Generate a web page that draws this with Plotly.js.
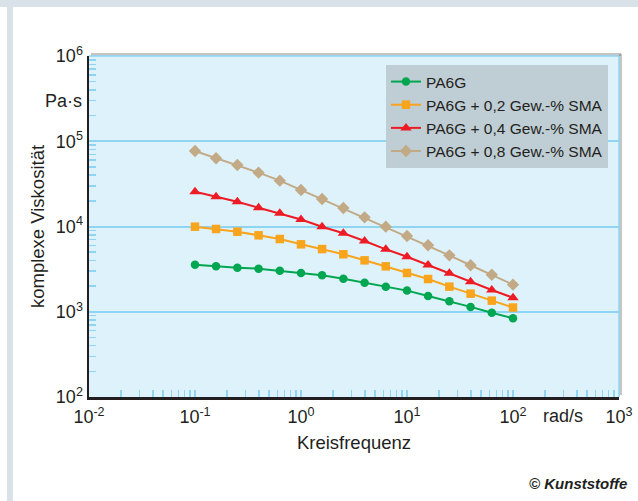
<!DOCTYPE html>
<html>
<head>
<meta charset="utf-8">
<script src="https://cdn.plot.ly/plotly-3.0.1.min.js"></script>
<style>
html,body{margin:0;padding:0;background:#fff;}
#chart{width:638px;height:501px;}
</style>
</head>
<body>
<div id="chart"></div>
<script>
// angular frequency (rad/s)
const frequency = [0.1, 0.158, 0.251, 0.398, 0.631, 1, 1.58, 2.51, 3.98, 6.31, 10, 15.8, 25.1, 39.8, 63.1, 100];

// complex viscosity (Pa·s)
const pa6g      = [3560, 3410, 3290, 3200, 3030, 2850, 2680, 2440, 2190, 1970, 1770, 1530, 1330, 1140, 975, 838];
const sma02     = [9950, 9350, 8690, 7880, 7130, 6180, 5440, 4720, 4010, 3410, 2850, 2420, 1970, 1630, 1350, 1120];
const sma04     = [25600, 22400, 19500, 16600, 14300, 12100, 9950, 8320, 6760, 5400, 4420, 3530, 2830, 2250, 1800, 1460];
const sma08     = [76900, 63100, 52600, 42800, 34500, 26800, 21000, 16500, 12800, 9950, 7740, 6020, 4590, 3510, 2720, 2080];

const seriesNames = ["PA6G", "PA6G + 0,2 Gew.-% SMA", "PA6G + 0,4 Gew.-% SMA", "PA6G + 0,8 Gew.-% SMA"];

const xTickVals = [0.01, 0.1, 1, 10, 100, 1000];
const xTickText = ["10<sup>-2</sup>", "10<sup>-1</sup>", "10<sup>0</sup>", "10<sup>1</sup>", "10<sup>2</sup>", "10<sup>3</sup>"];
const yTickVals = [1e2, 1e3, 1e4, 1e5, 1e6];
const yTickText = ["10<sup>2</sup>", "10<sup>3</sup>", "10<sup>4</sup>", "10<sup>5</sup>", "10<sup>6</sup>"];

function minorVals(expFrom, expTo) {
  const out = [];
  for (let e = expFrom; e < expTo; e++) {
    for (let m = 2; m <= 9; m++) out.push(m * Math.pow(10, e));
  }
  return out;
}

const colors = ["#00a650", "#f8a41c", "#ed1c24", "#c3aa86"];
const symbols = ["circle", "square", "triangle-up", "diamond"];
const sizes = [8.5, 8.5, 10, 9.5];
const ys = [pa6g, sma02, sma04, sma08];

const traces = ys.map((y, i) => ({
  type: "scatter",
  mode: "lines+markers",
  x: frequency,
  y: y,
  name: seriesNames[i],
  line: {color: colors[i], width: 2},
  marker: {color: colors[i], symbol: symbols[i], size: sizes[i]}
}));

// plot area pixel geometry helpers for decorations
const L = 89, R = 619, T = 56, B = 397;
const px = v => (v - L) / (R - L);
const py = v => (B - v) / (B - T);

const font = "Liberation Sans, Arial, sans-serif";
const txt = "#231f20";
const grid = "#8ed5f3";

const layout = {
  width: 638,
  height: 501,
  margin: {l: L, r: 638 - R, t: T, b: 501 - B},
  paper_bgcolor: "#ffffff",
  plot_bgcolor: "#def2fb",
  font: {family: font, size: 15, color: txt},
  showlegend: true,
  legend: {
    x: px(386), y: py(65), xanchor: "left", yanchor: "top",
    bgcolor: "#bfcdd4", borderwidth: 0,
    font: {family: font, size: 15.5, color: txt},
    itemwidth: 30
  },
  xaxis: {
    type: "log",
    range: [-2, 3],
    tickmode: "array",
    tickvals: xTickVals,
    ticktext: xTickText,
    ticks: "inside",
    ticklen: 7,
    tickwidth: 1.5,
    tickcolor: grid,
    ticklabelstandoff: 2,
    showgrid: false,
    zeroline: false,
    showline: true,
    linecolor: "#231f20",
    linewidth: 2.5,
    tickfont: {family: font, size: 18, color: txt},
    minor: {tickmode: "array", tickvals: minorVals(-2, 3), ticks: "inside", ticklen: 7, tickwidth: 1.5, tickcolor: grid, showgrid: false},
    title: {text: "Kreisfrequenz", font: {family: font, size: 18.5, color: txt}, standoff: 10},
    automargin: false
  },
  yaxis: {
    type: "log",
    range: [2, 6],
    tickmode: "array",
    tickvals: yTickVals,
    ticktext: yTickText,
    ticks: "inside",
    ticklen: 7,
    tickwidth: 1.5,
    tickcolor: grid,
    showgrid: true,
    gridcolor: grid,
    gridwidth: 2,
    zeroline: false,
    showline: true,
    linecolor: "#231f20",
    linewidth: 2.5,
    tickfont: {family: font, size: 18, color: txt},
    minor: {tickmode: "array", tickvals: minorVals(2, 6), ticks: "inside", ticklen: 7, tickwidth: 1.5, tickcolor: grid, showgrid: false},
    title: {text: "komplexe Viskosität", font: {family: font, size: 18.5, color: txt}, standoff: 7},
    automargin: false
  },
  shapes: [
    // outer frame bands
    {type: "rect", xref: "paper", yref: "paper", x0: px(0), x1: px(638), y0: py(0), y1: py(7), fillcolor: "#dae2e9", line: {width: 0}, layer: "below"},
    {type: "rect", xref: "paper", yref: "paper", x0: px(7), x1: px(13), y0: py(7), y1: py(501), fillcolor: "#dae2e9", line: {width: 0}, layer: "below"},
    // plot box shadow (top and right)
    {type: "line", xref: "paper", yref: "paper", x0: px(L + 2), x1: px(R + 2), y0: py(T - 1.5), y1: py(T - 1.5), line: {color: "rgba(90,90,90,0.35)", width: 3}, layer: "above"},
    {type: "line", xref: "paper", yref: "paper", x0: px(R + 1.5), x1: px(R + 1.5), y0: py(T - 2), y1: py(B - 2), line: {color: "rgba(90,90,90,0.35)", width: 3}, layer: "above"},
    {type: "line", xref: "paper", yref: "paper", x0: 0, x1: 1, y0: 1, y1: 1, line: {color: grid, width: 1.5}, layer: "above"},
    {type: "line", xref: "paper", yref: "paper", x0: 1, x1: 1, y0: 0, y1: 1, line: {color: grid, width: 1.5}, layer: "above"}
  ],
  annotations: [
    {text: "Pa·s", xref: "paper", yref: "paper", x: px(84), y: py(101), xanchor: "right", yanchor: "middle", showarrow: false, font: {family: font, size: 18, color: txt}},
    {text: "rad/s", xref: "paper", yref: "paper", x: px(563), y: py(416), xanchor: "center", yanchor: "middle", showarrow: false, font: {family: font, size: 18, color: txt}},
    {text: "<b><i>© Kunststoffe</i></b>", xref: "paper", yref: "paper", x: px(629), y: py(483), xanchor: "right", yanchor: "middle", showarrow: false, font: {family: font, size: 15, color: txt}}
  ]
};

Plotly.newPlot("chart", traces, layout, {displayModeBar: false, staticPlot: true});
</script>
</body>
</html>
